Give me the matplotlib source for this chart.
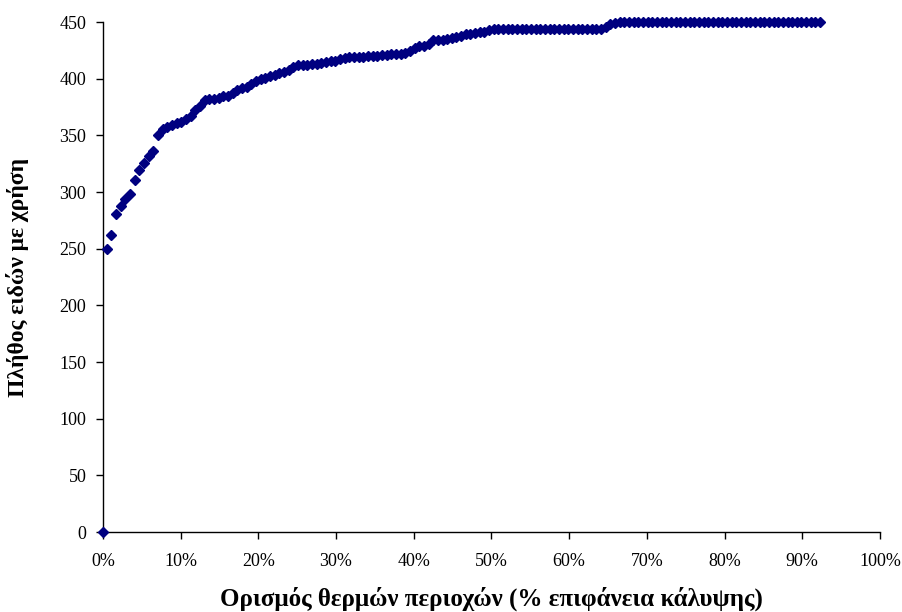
import numpy as np
from matplotlib import pyplot as plt
from matplotlib.ticker import FuncFormatter

# cumulative area coverage (%), one point every ~0.6 %
area_start = 0.5
area_step = 0.6
species = [
    250, 262, 281, 288, 294, 298, 311, 319, 326, 332,
    336, 350, 356, 357, 359, 361, 362, 364, 367, 372,
    376, 381, 382, 382, 383, 385, 385, 387, 390, 392,
    393, 395, 398, 400, 401, 402, 403, 405, 406, 408,
    410, 412, 412, 412, 413, 413, 414, 415, 416, 416,
    417, 418, 419, 419, 419, 419, 420, 420, 420, 421,
    421, 422, 422, 422, 423, 424, 427, 429, 429, 431,
    434, 434, 434, 435, 436, 437, 438, 439, 439, 440,
    441, 441, 443, 444, 444, 444, 444, 444, 444, 444,
    444, 444, 444, 444, 444, 444, 444, 444, 444, 444,
    444, 444, 444, 444, 444, 444, 444, 446, 448, 449,
    450, 450, 450, 450, 450, 450, 450, 450, 450, 450,
    450, 450, 450, 450, 450, 450, 450, 450, 450, 450,
    450, 450, 450, 450, 450, 450, 450, 450, 450, 450,
    450, 450, 450, 450, 450, 450, 450, 450, 450, 450,
    450, 450, 450, 450,
]
area = [0.0] + [area_start + area_step * i for i in range(len(species))]
species = [0] + species

x_ticks = list(range(0, 101, 10))
y_ticks = list(range(0, 451, 50))

x_label = 'Ορισμός θερμών περιοχών (% επιφάνεια κάλυψης)'
y_label = 'Πλήθος ειδών με χρήση'

plt.rcParams['font.family'] = ['Liberation Serif', 'DejaVu Serif']

fig = plt.figure(figsize=(9.03, 6.12), dpi=100)
ax = fig.add_axes([0.114, 0.1307, 0.8605, 0.8333])

ax.plot(area, species, linestyle='none', marker='D', markersize=5.3,
        color='#000080', clip_on=False, zorder=3)

ax.set_xlim(0, 100)
ax.set_ylim(0, 450)
ax.set_xticks(x_ticks)
ax.set_yticks(y_ticks)
ax.xaxis.set_major_formatter(FuncFormatter(lambda v, p: '%d%%' % v))

for side in ['top', 'right']:
    ax.spines[side].set_visible(False)
for side in ['left', 'bottom']:
    ax.spines[side].set_linewidth(1.0)

ax.tick_params(direction='out', length=5, width=1, labelsize=13)
ax.tick_params(axis='x', pad=10)
ax.tick_params(axis='y', pad=7)

ax.set_xlabel(x_label, fontsize=18, fontweight='bold', labelpad=12)
ax.set_ylabel(y_label, fontsize=17, fontweight='bold', labelpad=22)

plt.savefig('out.png', dpi=100)
